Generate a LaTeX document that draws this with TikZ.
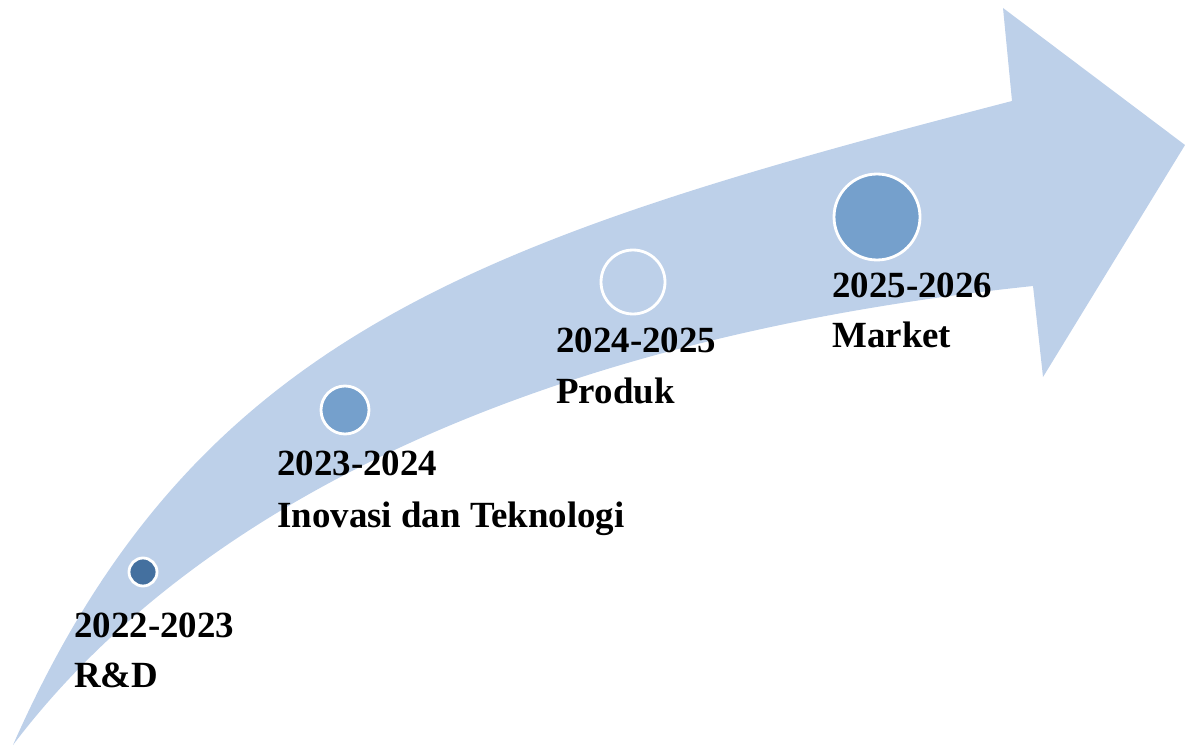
\documentclass[tikz,border=0pt]{standalone}
\usepackage{fontspec}
\setmainfont{Liberation Serif}
\usetikzlibrary{positioning}
\definecolor{bandblue}{RGB}{189,208,233}
\definecolor{darkdot}{RGB}{68,112,159}
\definecolor{middot}{RGB}{117,160,204}
\tikzstyle{dot} = [circle, draw=white, line width=1.6pt, inner sep=0pt]
\tikzstyle{year} = [anchor=base west, inner sep=0pt, font=\fontsize{21}{25}\selectfont\bfseries]

\begin{document}
\begin{tikzpicture}[x=0.02cm, y=-0.02cm]
\useasboundingbox (0,0) rectangle (1185,746);
% curved arrow
\coordinate (tail) at (13,745);
\coordinate (shafttop) at (1012,101);
\coordinate (shaftbot) at (1033,286);
\fill [bandblue] (tail) .. controls (195,333) and (480,239) .. (shafttop)
  -- (1003,8) -- (1185,145) -- (1043,377) -- (shaftbot)
  .. controls (536,338) and (194,506) .. (tail) -- cycle;
% milestones
\node [dot, fill=darkdot, minimum size=0.56cm] (rd) at (143,572) {};
\node [dot, fill=middot, minimum size=0.96cm] (inov) at (345,410) {};
\node [dot, fill=bandblue, minimum size=1.28cm] (produk) at (633,282) {};
\node [dot, fill=middot, minimum size=1.72cm] (market) at (877,217) {};
% labels
\node [year] (rdyear) at (74,637) {2022-2023};
\node [year] (rdname) at (74,687) {R\&D};
\node [year] (inovyear) at (277,475) {2023-2024};
\node [year] (inovname) at (277,527) {Inovasi dan Teknologi};
\node [year] (produkyear) at (556,352) {2024-2025};
\node [year] (produkname) at (556,403) {Produk};
\node [year] (marketyear) at (832,297) {2025-2026};
\node [year] (marketname) at (832,347) {Market};
\end{tikzpicture}
\end{document}
